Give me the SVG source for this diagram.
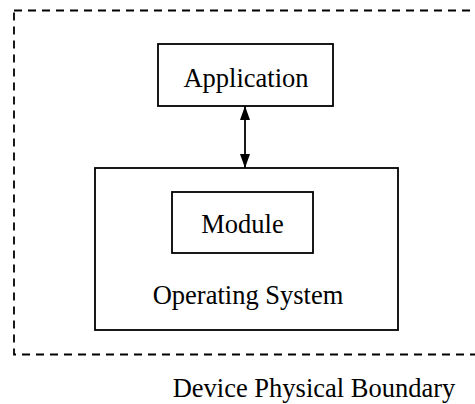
<svg xmlns="http://www.w3.org/2000/svg" width="475" height="404" viewBox="0 0 475 404">
<style>
.box{fill:#fff;stroke:#000;stroke-width:1.8}
.lbl{font-family:"Liberation Serif","Times New Roman",serif;font-size:26.5px;fill:#000;text-anchor:middle}
.bnd{fill:none;stroke:#000;stroke-width:1.8;stroke-dasharray:8,6}
</style>
<defs>
<marker id="ah" viewBox="0 0 10 10" refX="10" refY="5" markerWidth="14" markerHeight="10" markerUnits="userSpaceOnUse" orient="auto-start-reverse" preserveAspectRatio="none">
<path d="M0,0 L10,5 L0,10 z" fill="#000"/>
</marker>
</defs>
<rect id="boundary" class="bnd" x="14" y="10.5" width="480" height="344"/>
<g id="application">
<rect class="box" x="158" y="44" width="175" height="62"/>
<text class="lbl" x="246" y="87">Application</text>
</g>
<g id="os">
<rect class="box" x="95" y="168" width="303" height="162"/>
<text class="lbl" x="248" y="304">Operating System</text>
</g>
<g id="module">
<rect class="box" x="172" y="192" width="141" height="61"/>
<text class="lbl" x="242.5" y="233">Module</text>
</g>
<g id="connectors">
<line x1="245" y1="106" x2="245" y2="168" stroke="#000" stroke-width="1.8" marker-start="url(#ah)" marker-end="url(#ah)"/>
</g>
<text id="boundary-label" class="lbl" x="314" y="397">Device Physical Boundary</text>
</svg>
